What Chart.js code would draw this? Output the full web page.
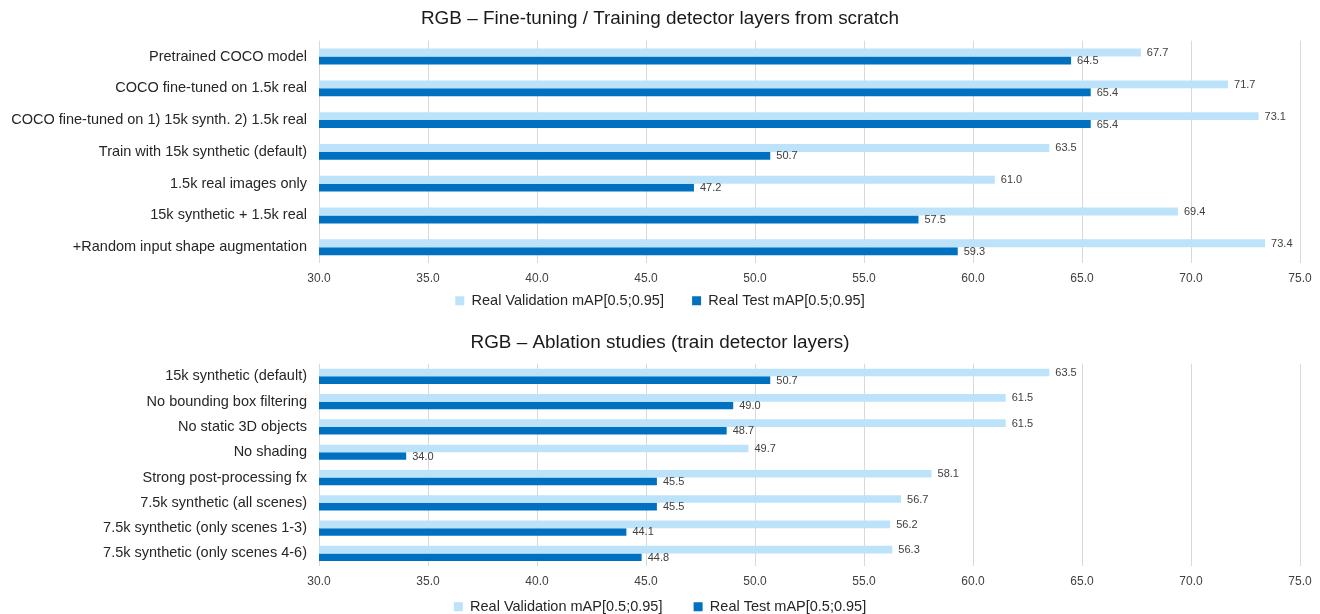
<!DOCTYPE html>
<html>
<head>
<meta charset="utf-8">
<script src="https://cdn.jsdelivr.net/npm/chart.js@4.4.0/dist/chart.umd.min.js"></script>
<style>
  html, body { margin: 0; padding: 0; background: #fff; overflow: hidden; width: 1320px; height: 614px; }
  .box { position: absolute; left: 0; width: 1320px; }
  #top { top: 0; height: 318px; }
  #bottom { top: 323px; height: 301px; }
</style>
</head>
<body>
<div class="box" id="top"><canvas id="chartTop"></canvas></div>
<div class="box" id="bottom"><canvas id="chartBottom"></canvas></div>
<script>
const topTitle = 'RGB \u2013 Fine-tuning / Training detector layers from scratch';
const topCategories = [
  'Pretrained COCO model',
  'COCO fine-tuned on 1.5k real',
  'COCO fine-tuned on 1) 15k synth. 2) 1.5k real',
  'Train with 15k synthetic (default)',
  '1.5k real images only',
  '15k synthetic + 1.5k real',
  '+Random input shape augmentation'
];
const topValidation = [67.7, 71.7, 73.1, 63.5, 61.0, 69.4, 73.4];
const topTest = [64.5, 65.4, 65.4, 50.7, 47.2, 57.5, 59.3];

const bottomTitle = 'RGB \u2013 Ablation studies (train detector layers)';
const bottomCategories = [
  '15k synthetic (default)',
  'No bounding box filtering',
  'No static 3D objects',
  'No shading',
  'Strong post-processing fx',
  '7.5k synthetic (all scenes)',
  '7.5k synthetic (only scenes 1-3)',
  '7.5k synthetic (only scenes 4-6)'
];
const bottomValidation = [63.5, 61.5, 61.5, 49.7, 58.1, 56.7, 56.2, 56.3];
const bottomTest = [50.7, 49.0, 48.7, 34.0, 45.5, 45.5, 44.1, 44.8];

const seriesNames = ['Real Validation mAP[0.5;0.95]', 'Real Test mAP[0.5;0.95]'];
const xMin = 30, xMax = 75, xStep = 5;

const FONT = "'Liberation Sans', Arial, sans-serif";

// numbers at the end of each bar
const valueLabels = {
  id: 'valueLabels',
  afterDatasetsDraw(chart) {
    const ctx = chart.ctx;
    ctx.save();
    ctx.font = '11px ' + FONT;
    ctx.fillStyle = '#404040';
    ctx.textAlign = 'left';
    ctx.textBaseline = 'middle';
    chart.data.datasets.forEach((ds, i) => {
      chart.getDatasetMeta(i).data.forEach((bar, j) => {
        ctx.fillText(ds.data[j].toFixed(1), bar.x + 6, bar.y + 0.5);
      });
    });
    ctx.restore();
  }
};

function makeChart(id, title, labels, valid, test, catPct, padTop, titleGap, legendPad) {
  return new Chart(document.getElementById(id), {
    type: 'bar',
    data: {
      labels: labels,
      datasets: [
        { label: seriesNames[0], data: valid, backgroundColor: '#bde3fb', borderWidth: 0 },
        { label: seriesNames[1], data: test, backgroundColor: '#0070c0', borderWidth: 0 }
      ]
    },
    options: {
      indexAxis: 'y',
      responsive: true,
      maintainAspectRatio: false,
      animation: false,
      datasets: { bar: { categoryPercentage: catPct, barPercentage: 1.0 } },
      layout: { padding: { left: 0, right: 0, top: padTop, bottom: 0 } },
      plugins: {
        title: {
          display: true,
          text: title,
          color: '#1a1a1a',
          font: { family: FONT, size: 18.9, weight: 'normal' },
          padding: { top: 4, bottom: titleGap }
        },
        legend: {
          position: 'bottom',
          labels: {
            color: '#262626',
            font: { family: FONT, size: 14.5 },
            boxWidth: 9,
            boxHeight: 9,
            padding: legendPad,
            generateLabels: (chart) => {
              const items = Chart.defaults.plugins.legend.labels.generateLabels(chart);
              items[0].text = items[0].text + '       ';
              return items;
            }
          }
        },
        tooltip: { enabled: false }
      },
      scales: {
        x: {
          min: xMin,
          max: xMax,
          ticks: {
            stepSize: xStep,
            color: '#404040',
            font: { family: FONT, size: 12 },
            padding: 8,
            callback: (v) => Number(v).toFixed(1)
          },
          grid: { color: '#d9d9d9', lineWidth: 1, drawTicks: false },
          border: { display: false },
          afterFit: (scale) => { scale.paddingRight = 20; }
        },
        y: {
          ticks: {
            color: '#262626',
            font: { family: FONT, size: 14.5 },
            padding: 12
          },
          grid: { display: false, drawTicks: false },
          border: { display: false },
          afterFit: (scale) => { scale.width = 319; }
        }
      }
    },
    plugins: [valueLabels]
  });
}

makeChart('chartTop', topTitle, topCategories, topValidation, topTest, 0.5, 3, 11, 0);
makeChart('chartBottom', bottomTitle, bottomCategories, bottomValidation, bottomTest, 0.6, 4, 10, 3);
</script>
</body>
</html>
